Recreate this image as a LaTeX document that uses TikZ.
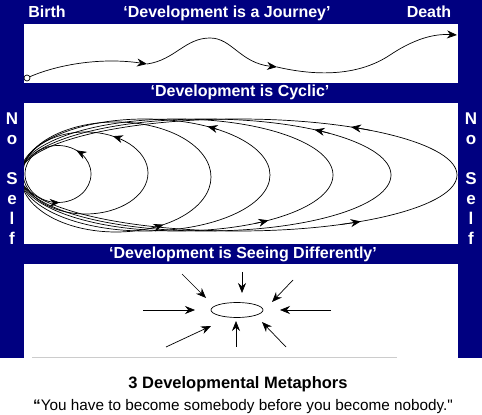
\documentclass[tikz,border=0pt]{standalone}
\usepackage{fontspec}
\setmainfont{Liberation Sans}
\newfontfamily\rawfont{Liberation Sans}
\usetikzlibrary{arrows.meta,shapes.geometric}
\definecolor{navyblue}{RGB}{0,0,128}

\begin{document}
\begin{tikzpicture}[x=1pt,y=1pt,
    bar/.style={fill=navyblue},
    panel/.style={fill=white},
    title/.style={text=white,anchor=base,font=\bfseries\fontsize{16}{18}\selectfont},
    letter/.style={text=white,font=\bfseries\fontsize{17}{19}\selectfont},
    curve/.style={line width=0.7pt},
    tip/.style={-{Stealth[length=10pt,width=8pt]},line width=0.7pt}
]
\useasboundingbox (0,0) rectangle (482,415);

% frame and panels
\fill[bar] (0,57) rectangle (482,415);
\fill[panel] (24,332) rectangle (458,391);
\fill[panel] (24,171) rectangle (458,312);
\fill[panel] (24,57) rectangle (458,151);
\draw[gray!40] (32,57.5) -- (397,57.5);

% headings
\node[title] (birth-lbl) at (47,397.5) {Birth};
\node[title] (journey) at (227,397.5) {‘Development is a Journey’};
\node[title] (death-lbl) at (429,397.5) {Death};
\node[title] (cyclic) at (240,318) {‘Development is Cyclic’};
\node[title] (seeing) at (243,156) {‘Development is Seeing Differently’};

% "No Self" on both sides
\foreach \ch/\yy in {N/296,o/275,S/236,e/215,l/197,f/177} {
  \node[letter] (left-\ch) at (12,\yy) {\ch};
  \node[letter] (right-\ch) at (471,\yy) {\ch};
}

% journey
\coordinate (birth) at (27,337);
\coordinate (j1) at (147,351);
\coordinate (j2) at (277,348);
\coordinate (death) at (457,380);
\draw[tip] (birth) .. controls (55,350) and (100,358) .. (j1);
\draw[tip] (j1) .. controls (175,355) and (185,377) .. (210,377)
  .. controls (232,377) and (240,352) .. (j2);
\draw[tip] (j2) .. controls (320,338) and (360,340) .. (390,360)
  .. controls (420,380) and (440,381) .. (death);
\draw[curve,fill=white] (birth) circle (3);

% cycles
\begin{scope}
\clip (24,171) rectangle (458.5,312);
\foreach \cx/\cy/\rx/\ry in {58/241/33/28.5, 85.5/242/62.5/41, 116/238/95/55,
    145/240/125/56, 176.5/240/156.5/56, 205.5/240/185.5/56, 238.5/240/218.5/56}
  \draw[curve] (\cx,\cy) ellipse[x radius=\rx, y radius=\ry];
\foreach \cx/\cy/\rx/\ry/\a in {58/241/33/28.5/56, 58/241/33/28.5/273,
    85.5/242/62.5/41/64, 116/238/95/55/300, 145/240/125/56/60,
    176.5/240/156.5/56/306, 205.5/240/185.5/56/54, 238.5/240/218.5/56/59,
    238.5/240/218.5/56/304}
  \draw[tip] (\cx,\cy) ++(\a-6:\rx pt and \ry pt)
    arc[start angle=\a-6, end angle=\a, x radius=\rx, y radius=\ry];
\end{scope}

% seeing differently
\node[draw,curve,ellipse,minimum width=52pt,minimum height=15pt,inner sep=0pt] (eye) at (237,105) {};
\foreach \nm/\sx/\sy/\ex/\ey in {tl/182/141/206/117, t/242/143/242/122, tr/293/135/272/113,
    l/143/105/195/105, r/331/105/280/105, bl/166/68/211/89, b/236/68/236/94, br/286/68/262/93} {
  \coordinate (\nm-from) at (\sx,\sy);
  \coordinate (\nm-to) at (\ex,\ey);
  \draw[tip] (\nm-from) -- (\nm-to);
}

% caption
\node[anchor=base,font=\bfseries\fontsize{16.5}{19}\selectfont] (caption) at (238,26) {3 Developmental Metaphors};
\node[anchor=base,font=\fontsize{15.3}{18}\selectfont] (quote) at (243,5)
  {{\bfseries “}You have to become somebody before you become nobody.{\rawfont"}};

\end{tikzpicture}
\end{document}
